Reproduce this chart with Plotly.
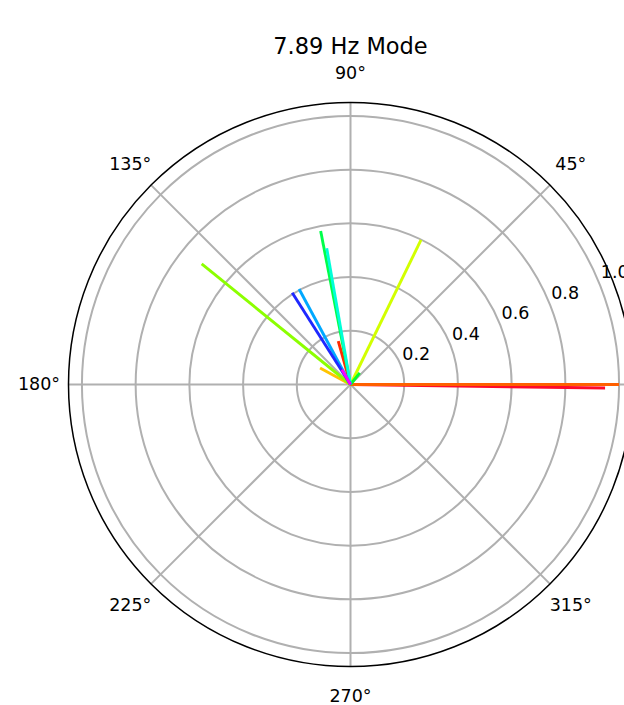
import math
import plotly.graph_objects as go

# Mode shape of the 7.89 Hz mode: one phasor per measurement channel
mode_angles_deg = [-0.8, 105.7, 0.0, 151.5, 64.0, 141.0, 51.5, 101.0, 99.9, 118.3, 122.4, 120.0]
mode_amplitudes = [0.948, 0.168, 1.0, 0.129, 0.599, 0.713, 0.055, 0.582, 0.515, 0.404, 0.405, 0.064]
phasor_colors = ["#ff0a2a", "#ff2a00", "#ff6000", "#ffc400", "#d2ff00", "#8cff00",
                 "#00ff2a", "#00ff4a", "#00ffd8", "#00a8ff", "#1e28ff", "#ff00ff"]

radial_ticks = [0.2, 0.4, 0.6, 0.8, 1.0]
radial_tick_text = ["0.2", "0.4", "0.6", "0.8", "1.0"]
angular_ticks = [0, 45, 90, 135, 180, 225, 270, 315]
angular_tick_text = ["0°", "45°", "90°", "135°", "180°", "225°", "270°", "315°"]
r_max = 1.05
r_max_labels = 1.185

W, H = 680, 705
cx, cy, rad = 350.5, 384.5, 282.0
px_per_unit = rad / r_max
rad_labels = r_max_labels * px_per_unit
label_dy = 1.5  # text baseline nudge for the label overlay


def domain(radius, dy=0.0):
    return dict(x=[(cx - radius) / W, (cx + radius) / W],
                y=[1 - (cy + dy + radius) / H, 1 - (cy + dy - radius) / H])


fig = go.Figure()
for ang, amp, col in zip(mode_angles_deg, mode_amplitudes, phasor_colors):
    fig.add_trace(go.Scatterpolar(
        r=[0, amp], theta=[0, ang], mode="lines",
        line=dict(color=col, width=2.9), showlegend=False, hoverinfo="skip",
        subplot="polar",
    ))

font = dict(family="DejaVu Sans", size=17.5, color="black")

# radius labels: along the 22.5 deg direction, a fixed distance outward of each ring
rl_r, rl_theta = [], []
for v in radial_ticks:
    along, perp = v * px_per_unit + 18.5, 2.5
    rl_r.append(math.hypot(along, perp) / px_per_unit)
    rl_theta.append(22.5 + math.degrees(math.atan2(perp, along)))
fig.add_trace(go.Scatterpolar(r=rl_r, theta=rl_theta, mode="text", text=radial_tick_text,
                              textposition="middle center", textfont=font,
                              showlegend=False, hoverinfo="skip", subplot="polar2"))

# angle labels centred on a circle just outside the frame
theta_label_r = 311.5 / px_per_unit
fig.add_trace(go.Scatterpolar(r=[theta_label_r] * len(angular_ticks), theta=angular_ticks,
                              mode="text", text=angular_tick_text,
                              textposition="middle center", textfont=font,
                              showlegend=False, hoverinfo="skip", subplot="polar2"))

fig.update_layout(
    width=W, height=H,
    margin=dict(l=0, r=0, t=0, b=0),
    paper_bgcolor="white",
    font=font,
    title=dict(text="7.89 Hz Mode", x=cx / W, xanchor="center", xref="paper",
               y=1 - 46 / H, yref="container", yanchor="middle",
               font=dict(family="DejaVu Sans", size=22.5, color="black")),
    polar=dict(
        domain=domain(rad),
        bgcolor="white",
        radialaxis=dict(range=[0, r_max], tickvals=radial_ticks, showticklabels=False,
                        showline=False, ticks="", gridcolor="#b0b0b0", gridwidth=1.6),
        angularaxis=dict(tickvals=angular_ticks, showticklabels=False,
                         direction="counterclockwise", rotation=0,
                         showline=True, linecolor="black", linewidth=1.5,
                         gridcolor="#b0b0b0", gridwidth=1.6, ticks=""),
    ),
    polar2=dict(
        domain=domain(rad_labels, label_dy),
        bgcolor="rgba(0,0,0,0)",
        radialaxis=dict(range=[0, r_max_labels], showline=False, showgrid=False,
                        showticklabels=False, ticks=""),
        angularaxis=dict(direction="counterclockwise", rotation=0,
                         showline=False, showgrid=False, showticklabels=False, ticks=""),
    ),
)

fig.write_html("out.html", config={"displayModeBar": False},
               post_script="document.body.style.overflow='hidden';document.body.style.margin='0';")
